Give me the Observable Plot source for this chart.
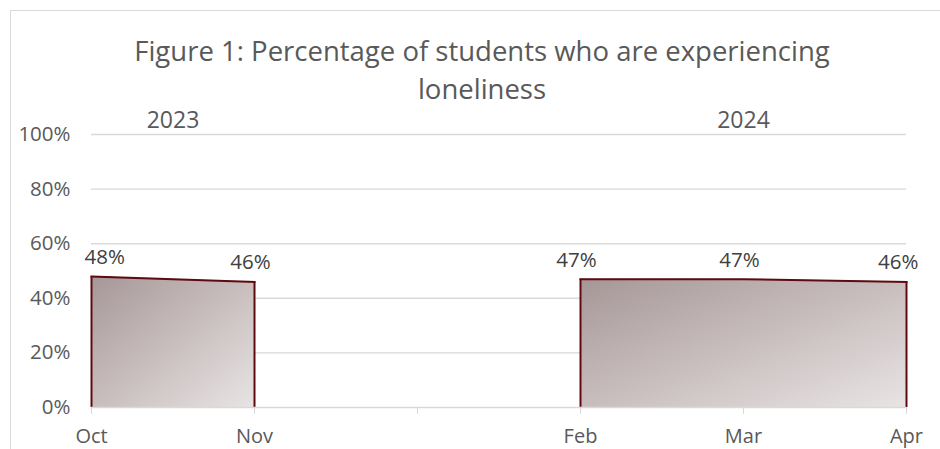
<!DOCTYPE html>
<html>
<head>
<meta charset="utf-8">
<script src="https://cdn.jsdelivr.net/npm/d3@7"></script>
<script src="https://cdn.jsdelivr.net/npm/@observablehq/plot@0.6"></script>
<style>
  html, body { margin: 0; padding: 0; background: #fff; overflow: hidden; }
  #wrap { position: relative; width: 940px; height: 449px; font-family: "Open Sans", sans-serif; }
  #frame { position: absolute; left: 10px; top: 10px; width: 940px; height: 460px;
           border-top: 1.5px solid #d9d9d9; border-left: 1.5px solid #d9d9d9; }
  #title { position: absolute; left: 22px; width: 920px; top: 32px; text-align: center;
           font-size: 27.5px; line-height: 38px; color: #595959; white-space: nowrap; }
  #chart { position: absolute; left: 0; top: 111px; }
</style>
</head>
<body>
<div id="wrap">
  <div id="frame"></div>
  <div id="title">Figure 1: Percentage of students who are experiencing<br>loneliness</div>
  <div id="chart"></div>
</div>
<script>
const months = ["Oct", "Nov", "", "Feb", "Mar", "Apr"];
const yearOf = ["2023", "2023", "", "2024", "2024", "2024"];
const values = [48, 46, null, 47, 47, 46];
const yTicks = [0, 20, 40, 60, 80, 100];
const yearLabels = ["2023", "2024"];

const data = months.map((m, i) => ({ i, month: m, year: yearOf[i], value: values[i] }));
const pts = data.filter(d => d.value != null);
const lastIndex = months.length - 1;
// group label sits at the centre of its group's categories
const years = yearLabels.map(y => {
  const idx = pts.filter(d => d.year === y).map(d => d.i);
  return { label: y, i: d3.mean(idx) };
});
// segment end points (for vertical edges of each area)
const edges = yearLabels.flatMap(y => {
  const seg = pts.filter(d => d.year === y);
  return [seg[0], seg[seg.length - 1]];
});

const textColor = "#595959";
const font = "Open Sans, sans-serif";
const edgeColor = "#5e0a10";
const labelStyle = { x: "i", y: "value", text: d => d.value + "%", fontSize: 20.5, fill: "#404040", lineAnchor: "middle", dy: -19 };

const plot = Plot.plot({
  width: 940,
  height: 338,
  marginTop: 23,
  marginBottom: 42,
  marginLeft: 91,
  marginRight: 34,
  style: { fontFamily: font, background: "transparent", overflow: "visible" },
  x: { type: "linear", domain: [0, lastIndex] },
  y: { domain: [0, 100] },
  marks: [
    Plot.ruleY(yTicks.filter(t => t > 0), { stroke: "#d9d9d9", strokeWidth: 1.4 }),
    Plot.areaY(pts, { x: "i", y: "value", z: "year", fill: "url(#areaGrad)" }),
    Plot.lineY(pts, { x: "i", y: "value", z: "year", stroke: edgeColor, strokeWidth: 2, strokeLinecap: "square" }),
    Plot.ruleX(edges, { x: "i", y1: 0, y2: "value", stroke: edgeColor, strokeWidth: 2 }),
    Plot.ruleY([0], { stroke: "#d9d9d9", strokeWidth: 1.6 }),
    Plot.axisX({
      ticks: data.map(d => d.i), tickFormat: i => months[i],
      tickSize: 7, tickPadding: 14, fontSize: 20, stroke: "#d9d9d9", fill: textColor, label: null
    }),
    Plot.axisY({
      ticks: yTicks, tickFormat: d => d + "%", tickSize: 0, tickPadding: 21,
      fontSize: 20.5, fill: textColor, label: null
    }),
    // data labels: kept inside the plot area at both ends
    Plot.text(pts.filter(d => d.i === 0), { ...labelStyle, textAnchor: "start", dx: -7 }),
    Plot.text(pts.filter(d => d.i > 0 && d.i < lastIndex), { ...labelStyle, dx: -4 }),
    Plot.text(pts.filter(d => d.i === lastIndex), { ...labelStyle, textAnchor: "end", dx: 12 }),
    Plot.text(years, {
      x: "i", y: () => 100, text: "label", dy: -14,
      fontSize: 23, fill: textColor, lineAnchor: "middle"
    })
  ]
});

const svg = d3.select(plot);
const defs = svg.insert("defs", ":first-child");
const g = defs.append("linearGradient").attr("id", "areaGrad")
  .attr("x1", 0).attr("y1", 0).attr("x2", 1).attr("y2", 1);
g.append("stop").attr("offset", "0%").attr("stop-color", "#a69797");
g.append("stop").attr("offset", "50%").attr("stop-color", "#c8bdbd");
g.append("stop").attr("offset", "100%").attr("stop-color", "#e8e4e4");

document.getElementById("chart").appendChild(plot);
</script>
</body>
</html>
